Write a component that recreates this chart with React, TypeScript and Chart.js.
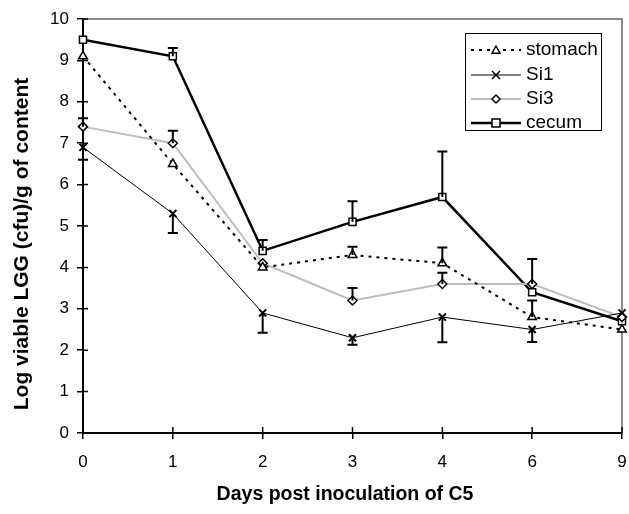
import React, { useEffect, useRef } from "react";
import { Chart, registerables } from "chart.js";

Chart.register(...registerables);

const days = ["0", "1", "2", "3", "4", "6", "9"];
const stomach = [9.1, 6.5, 4.0, 4.3, 4.1, 2.8, 2.5];
const si1 = [6.9, 5.3, 2.9, 2.3, 2.8, 2.5, 2.9];
const si3 = [7.4, 7.0, 4.1, 3.2, 3.6, 3.6, 2.8];
const cecum = [9.5, 9.1, 4.4, 5.1, 5.7, 3.4, 2.7];
// error bar ends (one-sided), null where absent
const stomachErr = [null, null, null, 4.5, 4.48, 3.2, null];
const si1Err = [6.6, 4.83, 2.42, 2.13, 2.19, 2.2, null];
const si3Err = [7.6, 7.3, null, 3.5, 3.87, 4.2, null];
const cecumErr = [null, 9.3, 4.66, 5.6, 6.8, null, null];
const yTicks = [0, 1, 2, 3, 4, 5, 6, 7, 8, 9, 10];
const xTitle = "Days post inoculation of C5";
const yTitle = "Log viable LGG (cfu)/g of content";

const FONT = "'Liberation Sans', Arial, sans-serif";

function drawMarker(ctx: CanvasRenderingContext2D, style: string, x: number, y: number, r: number) {
  ctx.beginPath();
  if (style === "triangle") {
    ctx.moveTo(x, y - r);
    ctx.lineTo(x + r, y + r * 0.8);
    ctx.lineTo(x - r, y + r * 0.8);
    ctx.closePath();
    ctx.fillStyle = "#fff";
    ctx.fill();
    ctx.stroke();
  } else if (style === "cross") {
    ctx.moveTo(x - r, y - r);
    ctx.lineTo(x + r, y + r);
    ctx.moveTo(x + r, y - r);
    ctx.lineTo(x - r, y + r);
    ctx.stroke();
  } else if (style === "diamond") {
    ctx.moveTo(x, y - r);
    ctx.lineTo(x + r, y);
    ctx.lineTo(x, y + r);
    ctx.lineTo(x - r, y);
    ctx.closePath();
    ctx.fillStyle = "#fff";
    ctx.fill();
    ctx.stroke();
  } else {
    ctx.rect(x - r, y - r, 2 * r, 2 * r);
    ctx.fillStyle = "#fff";
    ctx.fill();
    ctx.stroke();
  }
}

const errorBars = {
  id: "errorBars",
  afterDatasetsDraw(chart: any) {
    const ctx = chart.ctx;
    const xs = chart.scales.x;
    const ys = chart.scales.y;
    const errs = [stomachErr, si1Err, si3Err, cecumErr];
    ctx.save();
    ctx.strokeStyle = "#000";
    ctx.lineWidth = 2;
    chart.data.datasets.forEach((ds: any, i: number) => {
      const e = errs[i];
      ds.data.forEach((v: number, j: number) => {
        const end = e[j];
        if (end == null) return;
        const x = xs.getPixelForValue(j);
        const y0 = ys.getPixelForValue(v);
        const y1 = ys.getPixelForValue(end);
        ctx.beginPath();
        ctx.moveTo(x, y0);
        ctx.lineTo(x, y1);
        ctx.moveTo(x - 5, y1);
        ctx.lineTo(x + 5, y1);
        ctx.stroke();
      });
    });
    ctx.restore();
  },
};

const frame = {
  id: "frame",
  beforeDatasetsDraw(chart: any) {
    const { ctx, chartArea } = chart;
    const xs = chart.scales.x;
    const ys = chart.scales.y;
    ctx.save();
    ctx.strokeStyle = "#666";
    ctx.lineWidth = 1.5;
    ctx.beginPath();
    ctx.moveTo(chartArea.left, chartArea.top);
    ctx.lineTo(chartArea.right, chartArea.top);
    ctx.lineTo(chartArea.right, chartArea.bottom);
    ctx.stroke();
    ctx.strokeStyle = "#000";
    ctx.lineWidth = 1.5;
    ctx.beginPath();
    ys.ticks.forEach((_t: any, i: number) => {
      const y = ys.getPixelForTick(i);
      ctx.moveTo(chartArea.left, y);
      ctx.lineTo(chartArea.left + 5, y);
    });
    xs.ticks.forEach((_t: any, i: number) => {
      const x = xs.getPixelForTick(i);
      ctx.moveTo(x, chartArea.bottom);
      ctx.lineTo(x, chartArea.bottom - 6);
    });
    ctx.stroke();
    // axis titles
    ctx.fillStyle = "#000";
    ctx.textAlign = "center";
    ctx.textBaseline = "middle";
    ctx.font = `bold 19.5px ${FONT}`;
    ctx.fillText(xTitle, 345, 495);
    ctx.save();
    ctx.translate(22, 244);
    ctx.rotate(-Math.PI / 2);
    ctx.font = `bold 21px ${FONT}`;
    ctx.fillText(yTitle, 0, 0);
    ctx.restore();
    ctx.restore();
  },
};

const legendBox = {
  id: "legendBox",
  afterDraw(chart: any) {
    const ctx = chart.ctx;
    const left = 465, top = 33, right = 601, bottom = 130;
    ctx.save();
    ctx.fillStyle = "#fff";
    ctx.fillRect(left, top, right - left, bottom - top);
    ctx.strokeStyle = "#000";
    ctx.lineWidth = 1;
    ctx.strokeRect(left + 0.5, top + 0.5, right - left, bottom - top);
    const rows = [50, 75, 99, 123];
    const markers = ["triangle", "cross", "diamond", "square"];
    chart.data.datasets.forEach((ds: any, i: number) => {
      const y = rows[i];
      ctx.save();
      ctx.strokeStyle = ds.borderColor;
      ctx.lineWidth = ds.borderWidth;
      ctx.setLineDash(ds.borderDash || []);
      ctx.beginPath();
      ctx.moveTo(471, y);
      ctx.lineTo(521, y);
      ctx.stroke();
      ctx.restore();
      ctx.strokeStyle = "#000";
      ctx.lineWidth = 1.5;
      ctx.setLineDash([]);
      drawMarker(ctx, markers[i], 496, y, 4);
      ctx.fillStyle = "#000";
      ctx.font = `19px ${FONT}`;
      ctx.textAlign = "left";
      ctx.textBaseline = "middle";
      ctx.fillText(ds.label, 526, y);
    });
    ctx.restore();
  },
};

export default function App() {
  const ref = useRef<HTMLCanvasElement>(null);
  useEffect(() => {
    document.body.style.margin = "0";
    const chart = new Chart(ref.current!, {
      type: "line",
      data: {
        labels: days,
        datasets: [
          {
            label: "stomach",
            data: stomach,
            borderColor: "#000",
            borderWidth: 2,
            borderDash: [3, 5],
            pointStyle: "triangle",
            pointRadius: 5,
            pointBorderWidth: 1.5,
            pointBackgroundColor: "#fff",
            pointBorderColor: "#000",
          },
          {
            label: "Si1",
            data: si1,
            borderColor: "#000",
            borderWidth: 1,
            pointStyle: "crossRot",
            pointRadius: 5,
            pointBorderWidth: 2,
            pointBorderColor: "#000",
          },
          {
            label: "Si3",
            data: si3,
            borderColor: "#bdbdbd",
            borderWidth: 2,
            pointStyle: "rectRot",
            pointRadius: 4.5,
            pointBorderWidth: 1.5,
            pointBackgroundColor: "#fff",
            pointBorderColor: "#000",
          },
          {
            label: "cecum",
            data: cecum,
            borderColor: "#000",
            borderWidth: 2.5,
            pointStyle: "rect",
            pointRadius: 5,
            pointBorderWidth: 1.5,
            pointBackgroundColor: "#fff",
            pointBorderColor: "#000",
          },
        ],
      },
      options: {
        animation: false,
        responsive: false,
        layout: { padding: { left: 0, right: 4, top: 19, bottom: 0 } },
        plugins: { legend: { display: false }, tooltip: { enabled: false } },
        scales: {
          x: {
            type: "category",
            offset: false,
            grid: { drawOnChartArea: false, drawTicks: true, tickLength: 6, color: "#000", lineWidth: 1.5 },
            border: { color: "#000", width: 2 },
            ticks: { color: "#000", font: { family: FONT, size: 17 }, padding: 13, maxRotation: 0, autoSkip: false },
            afterFit: (s: any) => {
              s.height = 81;
              s.paddingRight = 0;
              s.paddingLeft = 0;
            },
          },
          y: {
            min: 0,
            max: 10,
            afterBuildTicks: (s: any) => {
              s.ticks = yTicks.map((v) => ({ value: v }));
            },
            grid: { drawOnChartArea: false, drawTicks: true, tickLength: 6, color: "#000", lineWidth: 1.5 },
            border: { color: "#000", width: 2 },
            ticks: { color: "#000", font: { family: FONT, size: 17 }, padding: 8 },
            afterFit: (s: any) => {
              s.width = 83;
            },
          },
        },
      },
      plugins: [frame, errorBars, legendBox],
    });
    return () => chart.destroy();
  }, []);
  return <canvas ref={ref} width={629} height={514} style={{ display: "block" }} />;
}
